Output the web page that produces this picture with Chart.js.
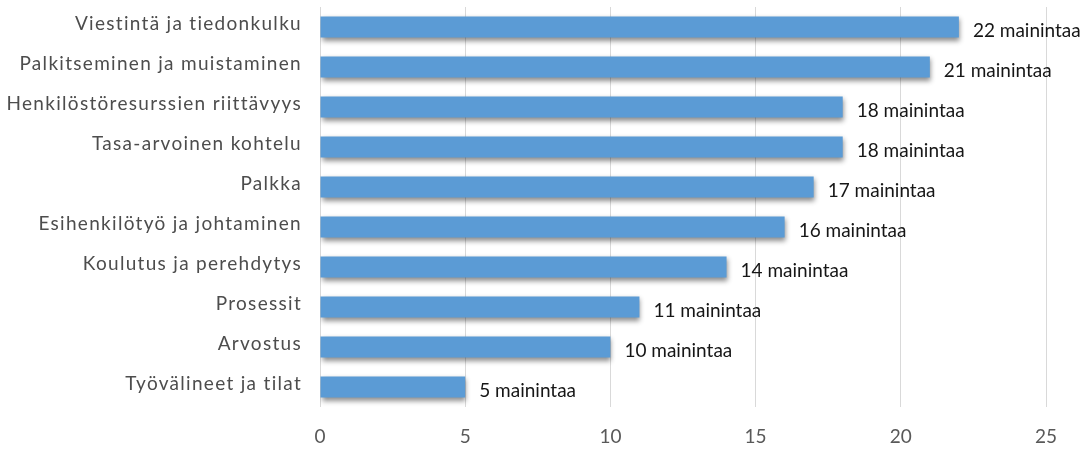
<!DOCTYPE html>
<html>
<head>
<meta charset="utf-8">
<script src="https://cdn.jsdelivr.net/npm/chart.js@4"></script>
<style>
  html, body { margin: 0; padding: 0; background: #fff; }
  #wrap { width: 1087px; height: 459px; }
</style>
</head>
<body>
<div id="wrap"><canvas id="barChart" width="1087" height="459"></canvas></div>
<script>
const categories = [
  "Viestintä ja tiedonkulku",
  "Palkitseminen ja muistaminen",
  "Henkilöstöresurssien riittävyys",
  "Tasa-arvoinen kohtelu",
  "Palkka",
  "Esihenkilötyö ja johtaminen",
  "Koulutus ja perehdytys",
  "Prosessit",
  "Arvostus",
  "Työvälineet ja tilat"
];
const mentions = [22, 21, 18, 18, 17, 16, 14, 11, 10, 5];
const valueLabels = mentions.map(v => v + " mainintaa");
const xTicks = [0, 5, 10, 15, 20, 25];

// category names, drawn on the y scale positions (spaced like the original)
const categoryLabels = {
  id: "categoryLabels",
  afterDraw(chart) {
    const ctx = chart.ctx;
    const y = chart.scales.y;
    ctx.save();
    ctx.font = "19px Lato, 'Open Sans', sans-serif";
    ctx.letterSpacing = "1.3px";
    ctx.fillStyle = "#4d4d4d";
    ctx.textAlign = "right";
    ctx.textBaseline = "middle";
    categories.forEach((name, i) => {
      ctx.fillText(name, y.right - 18, y.getPixelForTick(i) - 3);
    });
    ctx.restore();
  }
};

// value labels at the end of each bar
const endLabels = {
  id: "endLabels",
  afterDatasetsDraw(chart) {
    const ctx = chart.ctx;
    const meta = chart.getDatasetMeta(0);
    ctx.save();
    ctx.font = "19px Lato, 'Open Sans', sans-serif";
    ctx.fillStyle = "#161616";
    ctx.textBaseline = "middle";
    ctx.textAlign = "left";
    meta.data.forEach((bar, i) => {
      ctx.fillText(valueLabels[i], bar.x + 14, bar.y + 4);
    });
    ctx.restore();
  }
};

// soft drop shadow under the bars
const barShadow = {
  id: "barShadow",
  beforeDatasetDraw(chart) {
    const ctx = chart.ctx;
    ctx.save();
    ctx.shadowColor = "rgba(0,0,0,0.45)";
    ctx.shadowBlur = 5;
    ctx.shadowOffsetX = 1;
    ctx.shadowOffsetY = 3;
  },
  afterDatasetDraw(chart) {
    chart.ctx.restore();
  }
};

function barFill(context) {
  const el = context.element;
  const ctx = context.chart.ctx;
  if (!el || el.base === undefined) return "#5b9bd5";
  const h = el.height || 21;
  const g = ctx.createLinearGradient(0, el.y - h / 2, 0, el.y + h / 2);
  g.addColorStop(0, "#73aae0");
  g.addColorStop(0.5, "#5d9ddc");
  g.addColorStop(1, "#4a8ed6");
  return g;
}

const ctx = document.getElementById("barChart").getContext("2d");
const chart = new Chart(ctx, {
  type: "bar",
  data: {
    labels: categories,
    datasets: [{
      data: mentions,
      backgroundColor: barFill,
      borderWidth: 0,
      barPercentage: 0.53,
      categoryPercentage: 1
    }]
  },
  options: {
    indexAxis: "y",
    responsive: false,
    animation: false,
    layout: { padding: { top: 7, right: 41, left: 0, bottom: 0 } },
    plugins: {
      legend: { display: false },
      tooltip: { enabled: false }
    },
    scales: {
      x: {
        min: 0,
        max: 25,
        afterBuildTicks: scale => { scale.ticks = xTicks.map(v => ({ value: v })); },
        afterFit: scale => { scale.height = 52; },
        grid: { color: "#d9d9d9", lineWidth: 1, drawTicks: false },
        border: { display: false },
        ticks: {
          padding: 18,
          color: "#595959",
          font: { family: "Lato, 'Open Sans', sans-serif", size: 19 }
        }
      },
      y: {
        afterFit: scale => {
          scale.width = 320;
          scale.paddingTop = 0;
          scale.paddingBottom = 0;
        },
        grid: { display: false },
        border: { display: false },
        ticks: { display: false }
      }
    }
  },
  plugins: [barShadow, endLabels, categoryLabels]
});
</script>
</body>
</html>
